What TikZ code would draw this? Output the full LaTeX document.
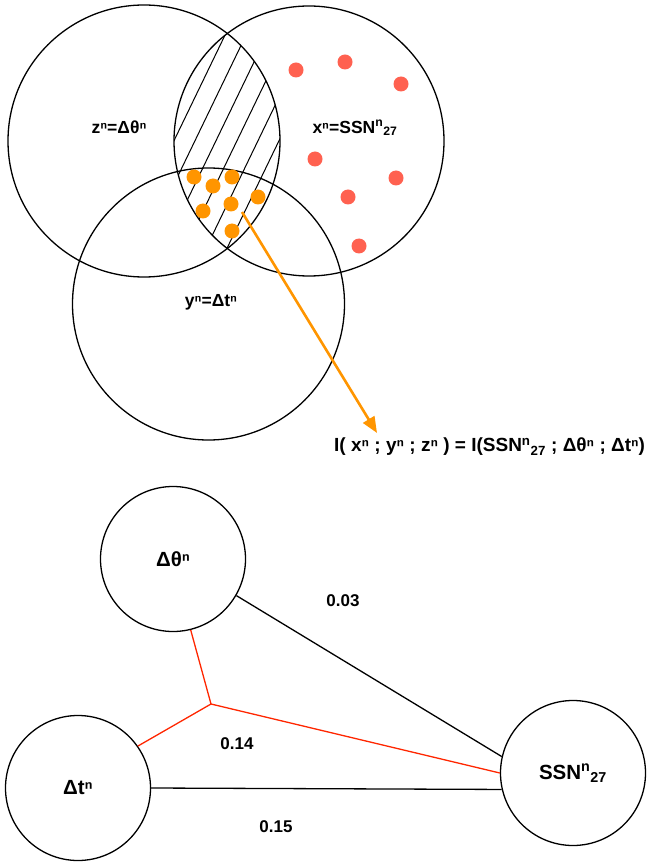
\documentclass[tikz,border=0pt]{standalone}
\usepackage{fontspec}
\setmainfont{Liberation Sans}
\usetikzlibrary{arrows.meta}
\definecolor{dotorange}{HTML}{FF9500}
\definecolor{dotred}{HTML}{FF6150}
\definecolor{linkred}{HTML}{FF2600}
\begin{document}
\begin{tikzpicture}[x=1pt,y=-1pt,font=\fontsize{16}{19}\selectfont\bfseries,venn/.style={draw=black,line width=1.3pt,circle,inner sep=0pt},vennlabel/.style={font=\fontsize{17.5}{21}\selectfont\bfseries},bubble/.style={draw=black,line width=1.3pt,circle,inner sep=0pt,minimum size=145pt,font=\fontsize{20.5}{24}\selectfont\bfseries},orangedot/.style={fill=dotorange},reddot/.style={fill=dotred},hatch/.style={black,line width=1pt},infoarrow/.style={dotorange,line width=2.6pt,-{Triangle[length=16pt,width=13pt]}},link/.style={black,line width=1.3pt},redlink/.style={linkred,line width=1.3pt},weight/.style={inner sep=0pt,font=\fontsize{17}{20}\selectfont\bfseries}]
\def\zX{144};
\def\zY{141};
\def\zR{136};
\def\xX{309};
\def\xY{141};
\def\xR{135};
\def\dotR{7.5pt}
\useasboundingbox (0,0) rectangle (646,866);

% Venn part
\begin{scope}
\clip (\zX,\zY) circle (\zR pt);
\clip (\xX,\xY) circle (\xR pt);
\foreach \k in {-1,...,8}
  \draw[hatch] (97+21*\k,300) -- (242+21*\k,0);
\end{scope}
\node[venn,minimum size=2*\zR pt] (setZ) at (\zX,\zY) {};
\node[venn,minimum size=2*\xR pt] (setX) at (\xX,\xY) {};
\node[venn,minimum size=272pt] (setY) at (208.5,304) {};
\node[vennlabel] (setZL) at (119,127) {zⁿ=Δθⁿ};
\node[vennlabel] (setXL) at (355,128) {xⁿ=SSN\textsuperscript{n}\textsubscript{27}};
\node[vennlabel] (setYL) at (211,302) {yⁿ=Δtⁿ};

\foreach \p in {(296,70),(345,62),(401,84),(315,159),(396,178),(348,197),(359,246)}
  \fill[reddot] \p circle (\dotR);
\foreach \p in {(194,177),(213,186),(232,177),(258,197),(231,204),(203,211),(232,231)}
  \fill[orangedot] \p circle (\dotR);

\node[anchor=west,inner sep=0pt,font=\fontsize{19}{23}\selectfont\bfseries] (formula) at (334,447) {I( xⁿ ; yⁿ ; zⁿ ) = I(SSN\textsuperscript{n}\textsubscript{27} ; Δθⁿ ; Δtⁿ)};
\coordinate (arrowStart) at (242,212);
\coordinate (arrowTip) at (377,433);
\draw[infoarrow] (arrowStart) -- (arrowTip);

% graph part
\node[bubble] (nodeTheta) at (173,559) {Δθⁿ};
\node[bubble] (nodeT) at (78,788) {Δtⁿ};
\node[bubble] (nodeSSN) at (573,773) {SSN\textsuperscript{n}\textsubscript{27}};
\draw[link] (nodeTheta.-30) -- (nodeSSN.167);
\draw[link] (nodeT.east) -- (nodeSSN.193);
\coordinate (junction) at (211,704);
\draw[redlink] (nodeTheta.-76) -- (junction) -- (nodeT.35);
\draw[redlink] (junction) -- (nodeSSN.west);
\node[weight] (w03) at (343,601) {0.03};
\node[weight] (w14) at (237,744) {0.14};
\node[weight] (w15) at (276,827) {0.15};
\end{tikzpicture}
\end{document}
